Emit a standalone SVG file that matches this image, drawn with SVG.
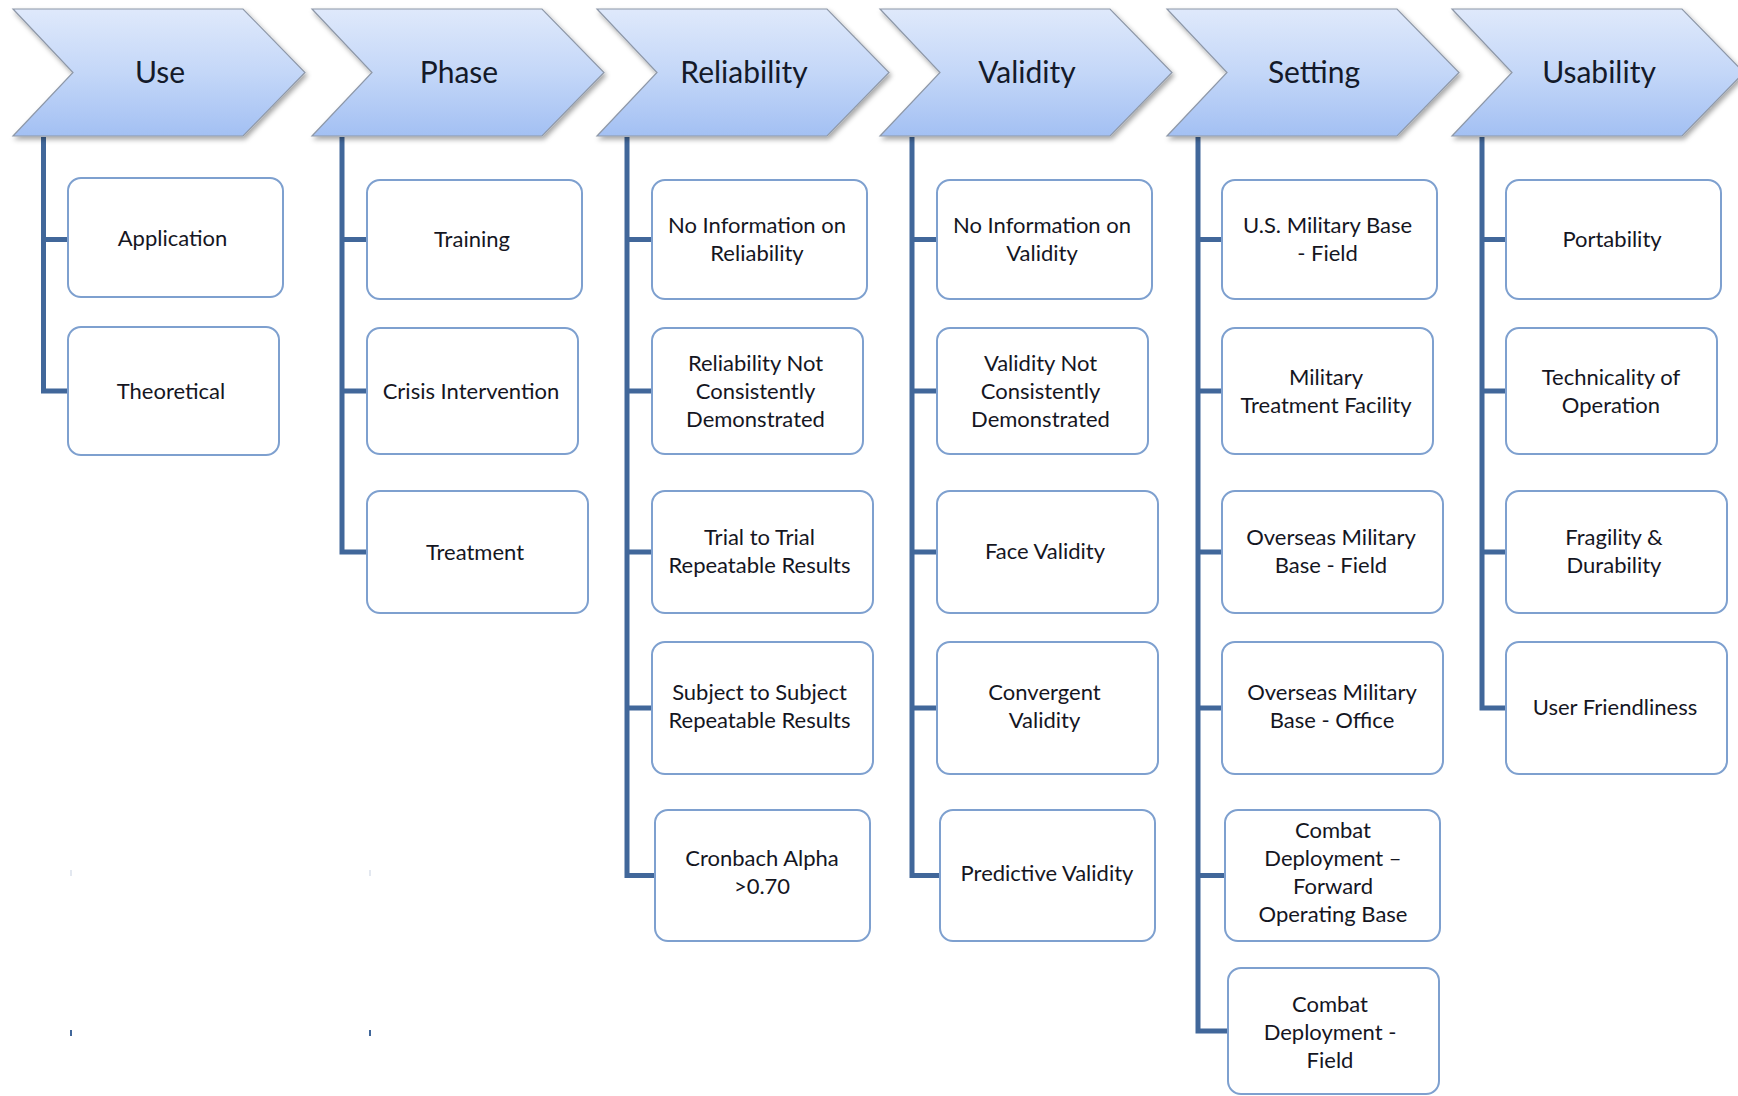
<svg xmlns="http://www.w3.org/2000/svg" width="1738" height="1096" viewBox="0 0 1738 1096">
  <defs>
    <linearGradient id="chevFill" x1="0" y1="0" x2="0" y2="1">
      <stop offset="0" stop-color="#dfe9fb"/>
      <stop offset="0.5" stop-color="#c4d7f8"/>
      <stop offset="1" stop-color="#a3c0f3"/>
    </linearGradient>
    <filter id="shadow" x="-10%" y="-10%" width="125%" height="140%">
      <feDropShadow dx="2" dy="3" stdDeviation="2.5" flood-color="#000" flood-opacity="0.35"/>
    </filter>
    <polygon id="chev" points="0,9 230,9 292,72.5 230,136 0,136 60,72.5"/>
  </defs>
  <style>
    .chev { fill: url(#chevFill); stroke: #8e98a8; stroke-width: 1.2; filter: url(#shadow); }
    .head { font-family: Lato, "Open Sans", sans-serif; font-size: 30px; fill: #141a2a; text-anchor: middle; }
    .box { fill: #ffffff; stroke: #7ea0cf; stroke-width: 2; }
    .lbl { font-family: Lato, "Open Sans", sans-serif; font-size: 22px; fill: #15161f; text-anchor: middle; }
    .trunk { fill: none; stroke: #41679a; stroke-width: 5; stroke-linejoin: miter; }
    .tick { stroke: #41679a; stroke-width: 2; }
  </style>

  <rect width="1738" height="1096" fill="#ffffff"/>

  <!-- Connectors -->
  <g id="connectors">
    <path class="trunk" d="M43.5,137 V391 H68 M43.5,239.5 H68"/>
    <path class="trunk" d="M342,137 V552 H367 M342,239.5 H367 M342,391 H367"/>
    <path class="trunk" d="M627,137 V875.5 H655 M627,239.5 H652 M627,391 H652 M627,552 H652 M627,708 H652"/>
    <path class="trunk" d="M912,137 V875.5 H940 M912,239.5 H937 M912,391 H937 M912,552 H937 M912,708 H937"/>
    <path class="trunk" d="M1198,137 V1031 H1228 M1198,239.5 H1222 M1198,391 H1222 M1198,552 H1222 M1198,708 H1222 M1198,875.5 H1225"/>
    <path class="trunk" d="M1482,137 V708 H1506 M1482,239.5 H1506 M1482,391 H1506 M1482,552 H1506"/>
  </g>

  <!-- Headers -->
  <g id="head-use"><use href="#chev" class="chev" x="13"/><text class="head" x="160" y="83">Use</text></g>
  <g id="head-phase"><use href="#chev" class="chev" x="312"/><text class="head" x="459" y="83">Phase</text></g>
  <g id="head-reliability"><use href="#chev" class="chev" x="597"/><text class="head" x="744" y="83">Reliability</text></g>
  <g id="head-validity"><use href="#chev" class="chev" x="880"/><text class="head" x="1027" y="83">Validity</text></g>
  <g id="head-setting"><use href="#chev" class="chev" x="1167"/><text class="head" x="1314" y="83">Setting</text></g>
  <g id="head-usability"><use href="#chev" class="chev" x="1452"/><text class="head" x="1599" y="83">Usability</text></g>

  <!-- Use column -->
  <g id="n-application"><rect class="box" x="68" y="178" width="215" height="119" rx="13"/><text class="lbl" x="172.5" y="246">Application</text></g>
  <g id="n-theoretical"><rect class="box" x="68" y="327" width="211" height="128" rx="13"/><text class="lbl" x="171" y="399">Theoretical</text></g>

  <!-- Phase column -->
  <g id="n-training"><rect class="box" x="367" y="180" width="215" height="119" rx="13"/><text class="lbl" x="472" y="247">Training</text></g>
  <g id="n-crisis"><rect class="box" x="367" y="328" width="211" height="126" rx="13"/><text class="lbl" x="471" y="399">Crisis Intervention</text></g>
  <g id="n-treatment"><rect class="box" x="367" y="491" width="221" height="122" rx="13"/><text class="lbl" x="475" y="560">Treatment</text></g>

  <!-- Reliability column -->
  <g id="n-rel-noinfo"><rect class="box" x="652" y="180" width="215" height="119" rx="13"/><text class="lbl" x="757" y="233">No Information on</text><text class="lbl" x="757" y="261">Reliability</text></g>
  <g id="n-rel-notcons"><rect class="box" x="652" y="328" width="211" height="126" rx="13"/><text class="lbl" x="755.5" y="371">Reliability Not</text><text class="lbl" x="755.5" y="399">Consistently</text><text class="lbl" x="755.5" y="427">Demonstrated</text></g>
  <g id="n-rel-trial"><rect class="box" x="652" y="491" width="221" height="122" rx="13"/><text class="lbl" x="759.5" y="545">Trial to Trial</text><text class="lbl" x="759.5" y="573">Repeatable Results</text></g>
  <g id="n-rel-subject"><rect class="box" x="652" y="642" width="221" height="132" rx="13"/><text class="lbl" x="759.5" y="700">Subject to Subject</text><text class="lbl" x="759.5" y="728">Repeatable Results</text></g>
  <g id="n-rel-cronbach"><rect class="box" x="655" y="810" width="215" height="131" rx="13"/><text class="lbl" x="762" y="866">Cronbach Alpha</text><text class="lbl" x="762" y="894">&gt;0.70</text></g>

  <!-- Validity column -->
  <g id="n-val-noinfo"><rect class="box" x="937" y="180" width="215" height="119" rx="13"/><text class="lbl" x="1042" y="233">No Information on</text><text class="lbl" x="1042" y="261">Validity</text></g>
  <g id="n-val-notcons"><rect class="box" x="937" y="328" width="211" height="126" rx="13"/><text class="lbl" x="1040.5" y="371">Validity Not</text><text class="lbl" x="1040.5" y="399">Consistently</text><text class="lbl" x="1040.5" y="427">Demonstrated</text></g>
  <g id="n-val-face"><rect class="box" x="937" y="491" width="221" height="122" rx="13"/><text class="lbl" x="1045" y="559">Face Validity</text></g>
  <g id="n-val-conv"><rect class="box" x="937" y="642" width="221" height="132" rx="13"/><text class="lbl" x="1044.5" y="700">Convergent</text><text class="lbl" x="1044.5" y="728">Validity</text></g>
  <g id="n-val-pred"><rect class="box" x="940" y="810" width="215" height="131" rx="13"/><text class="lbl" x="1047" y="881">Predictive Validity</text></g>

  <!-- Setting column -->
  <g id="n-set-us"><rect class="box" x="1222" y="180" width="215" height="119" rx="13"/><text class="lbl" x="1327.5" y="233">U.S. Military Base</text><text class="lbl" x="1327.5" y="261">- Field</text></g>
  <g id="n-set-mtf"><rect class="box" x="1222" y="328" width="211" height="126" rx="13"/><text class="lbl" x="1326" y="385">Military</text><text class="lbl" x="1326" y="413">Treatment Facility</text></g>
  <g id="n-set-osfield"><rect class="box" x="1222" y="491" width="221" height="122" rx="13"/><text class="lbl" x="1331" y="545">Overseas Military</text><text class="lbl" x="1331" y="573">Base - Field</text></g>
  <g id="n-set-osoffice"><rect class="box" x="1222" y="642" width="221" height="132" rx="13"/><text class="lbl" x="1332" y="700">Overseas Military</text><text class="lbl" x="1332" y="728">Base - Office</text></g>
  <g id="n-set-fob"><rect class="box" x="1225" y="810" width="215" height="131" rx="13"/><text class="lbl" x="1333" y="838">Combat</text><text class="lbl" x="1333" y="866">Deployment –</text><text class="lbl" x="1333" y="894">Forward</text><text class="lbl" x="1333" y="922">Operating Base</text></g>
  <g id="n-set-field"><rect class="box" x="1228" y="968" width="211" height="126" rx="13"/><text class="lbl" x="1330" y="1012">Combat</text><text class="lbl" x="1330" y="1040">Deployment -</text><text class="lbl" x="1330" y="1068">Field</text></g>

  <!-- Usability column -->
  <g id="n-usa-port"><rect class="box" x="1506" y="180" width="215" height="119" rx="13"/><text class="lbl" x="1612" y="247">Portability</text></g>
  <g id="n-usa-tech"><rect class="box" x="1506" y="328" width="211" height="126" rx="13"/><text class="lbl" x="1611" y="385">Technicality of</text><text class="lbl" x="1611" y="413">Operation</text></g>
  <g id="n-usa-frag"><rect class="box" x="1506" y="491" width="221" height="122" rx="13"/><text class="lbl" x="1614" y="545">Fragility &amp;</text><text class="lbl" x="1614" y="573">Durability</text></g>
  <g id="n-usa-user"><rect class="box" x="1506" y="642" width="221" height="132" rx="13"/><text class="lbl" x="1615" y="715">User Friendliness</text></g>

  <!-- stray marks -->
  <g id="marks">
    <line class="tick" x1="71" y1="870" x2="71" y2="876" stroke-opacity="0.15"/>
    <line class="tick" x1="370" y1="870" x2="370" y2="876" stroke-opacity="0.15"/>
    <line class="tick" x1="71" y1="1030" x2="71" y2="1036"/>
    <line class="tick" x1="370" y1="1030" x2="370" y2="1036"/>
  </g>
</svg>
